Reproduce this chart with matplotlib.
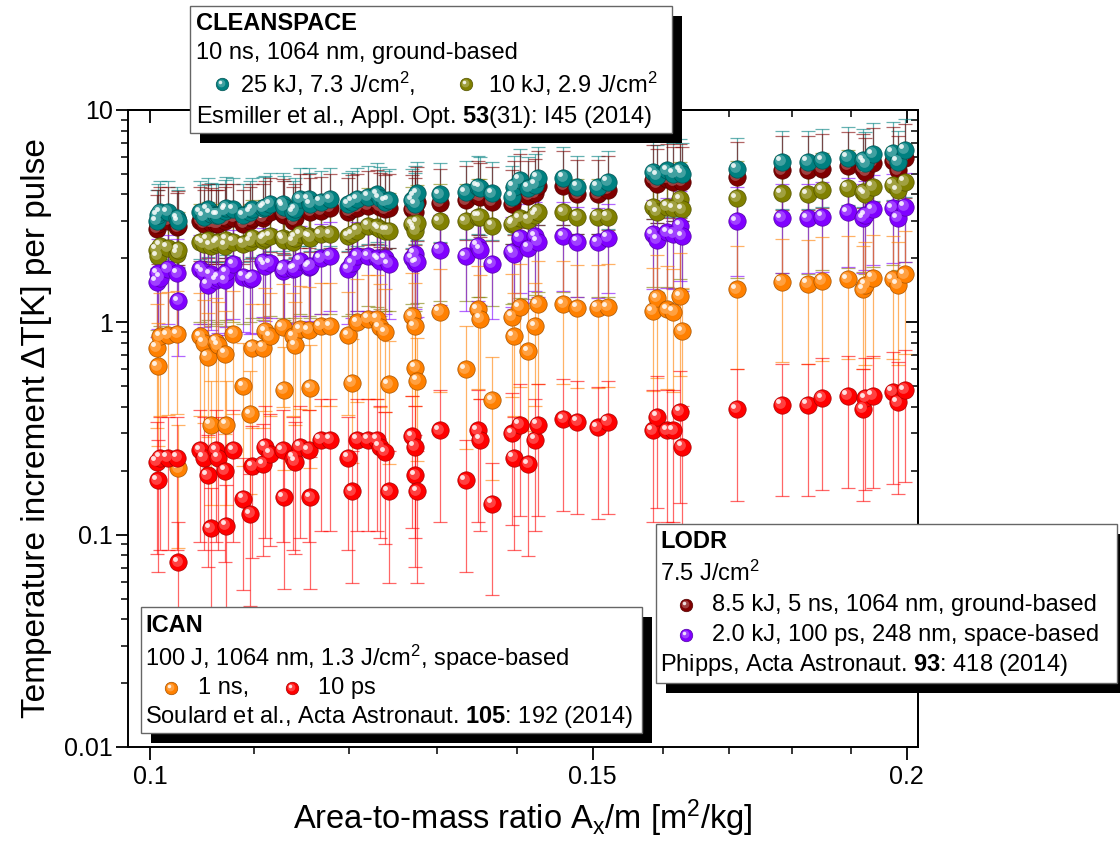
import matplotlib
matplotlib.use("Agg")
import matplotlib.pyplot as plt
import numpy as np
from matplotlib.patches import Rectangle
from matplotlib.transforms import offset_copy
from matplotlib.ticker import FixedLocator, NullFormatter, LogLocator, FuncFormatter
from matplotlib.colors import to_rgb

plt.rcParams['font.family'] = ['Liberation Sans', 'DejaVu Sans']
plt.rcParams['mathtext.fontset'] = 'custom'
plt.rcParams['mathtext.rm'] = 'Liberation Sans'
plt.rcParams['mathtext.bf'] = 'Liberation Sans:bold'
plt.rcParams['mathtext.it'] = 'Liberation Sans:italic'

# ---- data: area-to-mass ratio of each debris object [m^2/kg]
area_to_mass = [
    0.1006, 0.1007, 0.1009, 0.1016, 0.1025, 0.1026, 0.1047, 0.1050, 0.1054, 0.1057,
    0.1062, 0.1064, 0.1071, 0.1072, 0.1079, 0.1089, 0.1096, 0.1098, 0.1109, 0.1111,
    0.1116, 0.1129, 0.1130, 0.1140, 0.1142, 0.1147, 0.1156, 0.1158, 0.1169, 0.1179,
    0.1199, 0.1203, 0.1209, 0.1221, 0.1231, 0.1234, 0.1240, 0.1244, 0.1271, 0.1274,
    0.1275, 0.1277, 0.1304, 0.1335, 0.1350, 0.1353, 0.1368, 0.1393, 0.1395, 0.1403,
    0.1414, 0.1423, 0.1426, 0.1460, 0.1479, 0.1507, 0.1521, 0.1585, 0.1591, 0.1606,
    0.1615, 0.1625, 0.1628, 0.1712, 0.1784, 0.1827, 0.1851, 0.1895, 0.1922, 0.1926,
    0.1939, 0.1975, 0.1984, 0.1997,
]

# temperature increment per pulse [K]
dT_cleanspace_25kJ = [
    3.0, 3.2, 3.3, 3.3, 3.1, 3.0, 3.3, 3.15, 3.4, 3.25,
    3.2, 3.2, 3.35, 3.45, 3.4, 3.2, 3.3, 3.4, 3.45, 3.5,
    3.6, 3.6, 3.5, 3.3, 3.4, 3.8, 3.8, 3.6, 3.7, 3.8,
    3.6, 3.7, 3.8, 3.9, 4.0, 3.85, 3.7, 3.75, 3.75, 3.9,
    3.6, 4.05, 4.0, 4.1, 4.35, 4.3, 4.05, 3.9, 4.35, 4.7,
    4.3, 4.45, 4.8, 4.8, 4.35, 4.35, 4.6, 5.1, 4.9, 5.2,
    5.0, 5.2, 5.0, 5.3, 5.7, 5.7, 5.8, 5.95, 5.8, 5.6,
    6.2, 6.3, 5.7, 6.5,
]
dT_cleanspace_10kJ = [
    2.2, 2.05, 2.3, 2.25, 2.1, 2.2, 2.4, 2.35, 2.45, 2.3,
    2.35, 2.4, 2.3, 2.45, 2.4, 2.35, 2.4, 2.5, 2.45, 2.5,
    2.55, 2.5, 2.45, 2.4, 2.5, 2.6, 2.55, 2.5, 2.6, 2.6,
    2.55, 2.6, 2.7, 2.85, 2.8, 2.75, 2.7, 2.7, 2.9, 2.8,
    2.7, 2.95, 3.0, 3.0, 3.15, 3.15, 2.85, 2.9, 2.95, 3.1,
    3.05, 3.2, 3.3, 3.3, 3.15, 3.15, 3.15, 3.5, 3.3, 3.5,
    3.45, 3.8, 3.4, 3.85, 4.05, 4.0, 4.2, 4.3, 4.1, 4.0,
    4.35, 4.45, 4.2, 4.6,
]
dT_lodr_8p5kJ = [
    2.75, 2.9, 3.0, 3.0, 2.8, 2.85, 3.0, 2.9, 3.1, 2.95,
    2.9, 2.9, 3.0, 3.1, 3.1, 2.9, 3.0, 3.1, 3.1, 3.2,
    3.3, 3.25, 3.2, 3.0, 3.1, 3.45, 3.45, 3.3, 3.35, 3.45,
    3.3, 3.4, 3.45, 3.55, 3.6, 3.5, 3.4, 3.45, 3.4, 3.55,
    3.3, 3.7, 3.65, 3.75, 3.95, 3.9, 3.7, 3.6, 3.95, 4.3,
    3.95, 4.05, 4.4, 4.4, 4.0, 4.0, 4.2, 4.7, 4.5, 4.75,
    4.6, 4.75, 4.6, 4.85, 5.2, 5.2, 5.3, 5.45, 5.3, 5.1,
    5.65, 5.75, 5.2, 5.95,
]
dT_lodr_2kJ = [
    1.55, 1.7, 1.62, 1.78, 1.7, 1.26, 1.78, 1.72, 1.5, 1.68,
    1.58, 1.62, 1.58, 1.72, 1.88, 1.64, 1.6, 1.62, 1.92, 1.85,
    1.9, 1.75, 1.8, 1.78, 1.8, 1.95, 1.82, 1.85, 2.0, 2.05,
    1.78, 1.9, 2.05, 2.05, 2.0, 1.95, 2.0, 1.88, 2.0, 2.1,
    1.9, 1.92, 2.2, 2.05, 2.3, 2.2, 1.88, 2.15, 2.1, 2.5,
    2.25, 2.55, 2.4, 2.55, 2.4, 2.38, 2.5, 2.6, 2.45, 2.65,
    2.6, 2.85, 2.55, 3.0, 3.1, 3.1, 3.15, 3.3, 3.1, 3.2,
    3.4, 3.45, 3.1, 3.5,
]
dT_ican_1ns = [
    0.76, 0.62, 0.86, 0.87, 0.88, 0.205, 0.86, 0.80, 0.69, 0.33,
    0.81, 0.78, 0.71, 0.33, 0.88, 0.50, 0.37, 0.76, 0.76, 0.91,
    0.86, 0.95, 0.48, 0.86, 0.78, 0.93, 0.92, 0.49, 0.96, 0.96,
    0.87, 0.52, 1.0, 1.04, 1.04, 0.95, 0.90, 0.51, 1.07, 0.96,
    0.61, 0.53, 1.12, 0.60, 1.15, 1.04, 0.43, 1.06, 0.86, 1.18,
    0.73, 0.96, 1.22, 1.22, 1.17, 1.17, 1.18, 1.13, 1.3, 1.15,
    1.12, 1.33, 0.91, 1.43, 1.55, 1.52, 1.57, 1.6, 1.43, 1.5,
    1.62, 1.6, 1.5, 1.68,
]
dT_ican_10ps = [
    0.22, 0.18, 0.23, 0.23, 0.23, 0.074, 0.25, 0.23, 0.19, 0.107,
    0.25, 0.23, 0.20, 0.11, 0.25, 0.148, 0.125, 0.21, 0.215, 0.26,
    0.24, 0.25, 0.15, 0.23, 0.22, 0.26, 0.25, 0.15, 0.28, 0.28,
    0.23, 0.16, 0.28, 0.28, 0.28, 0.26, 0.245, 0.16, 0.29, 0.26,
    0.19, 0.16, 0.31, 0.18, 0.31, 0.28, 0.14, 0.30, 0.23, 0.33,
    0.215, 0.28, 0.33, 0.35, 0.34, 0.32, 0.34, 0.31, 0.36, 0.31,
    0.31, 0.38, 0.26, 0.39, 0.41, 0.41, 0.44, 0.45, 0.39, 0.44,
    0.45, 0.47, 0.42, 0.48,
]

# relative uncertainty (lower factor, upper factor) for each configuration
err_cleanspace_25kJ = (0.60, 1.40)
err_cleanspace_10kJ = (0.42, 1.50)
err_lodr_8p5kJ = (0.65, 1.45)
err_lodr_2kJ = (0.55, 1.45)
err_ican_1ns = (0.42, 1.60)
err_ican_10ps = (0.37, 1.55)

C_TEAL = '#008080'
C_OLIVE = '#808000'
C_DARKRED = '#800000'
C_PURPLE = '#8000FF'
C_ORANGE = '#FF8000'
C_RED = '#FF0000'

W, H, DPI = 1120, 841, 100
fig = plt.figure(figsize=(W / DPI, H / DPI), dpi=DPI)
fig.patch.set_facecolor('white')

ax_l, ax_r, ax_t, ax_b = 128.3, 918.0, 110.0, 747.0
ax = fig.add_axes([ax_l / W, 1 - ax_b / H, (ax_r - ax_l) / W, (ax_b - ax_t) / H])
ax.set_xscale('log')
ax.set_yscale('log')
ax.set_xlim(0.0980, 0.2021)
ax.set_ylim(0.01, 10)


def blend(c, other, t):
    c = np.array(to_rgb(c))
    o = np.array(to_rgb(other))
    return tuple(c * (1 - t) + o * t)


def draw_balls(axis, x, y, color, size, zorder, transform=None):
    base = transform if transform is not None else axis.transData
    f = axis.figure
    axis.scatter(x, y, s=size ** 2, color=color, edgecolors=blend(color, 'black', 0.35),
                 linewidths=0.5, zorder=zorder, transform=base)
    tr1 = offset_copy(base, fig=f, x=-size * 0.10, y=size * 0.10, units='points')
    axis.scatter(x, y, s=(size * 0.62) ** 2, color=blend(color, 'white', 0.25),
                 linewidths=0, zorder=zorder + 0.01, transform=tr1)
    tr2 = offset_copy(base, fig=f, x=-size * 0.2, y=size * 0.2, units='points')
    axis.scatter(x, y, s=(size * 0.28) ** 2, color='white', alpha=0.85,
                 linewidths=0, zorder=zorder + 0.02, transform=tr2)


series = [
    (dT_cleanspace_25kJ, err_cleanspace_25kJ, C_TEAL),
    (dT_lodr_8p5kJ, err_lodr_8p5kJ, C_DARKRED),
    (dT_cleanspace_10kJ, err_cleanspace_10kJ, C_OLIVE),
    (dT_lodr_2kJ, err_lodr_2kJ, C_PURPLE),
    (dT_ican_1ns, err_ican_1ns, C_ORANGE),
    (dT_ican_10ps, err_ican_10ps, C_RED),
]

x = np.array(area_to_mass)
for vals, (lo, hi), col in series:
    v = np.array(vals)
    yerr = np.vstack([v * (1 - lo), v * (hi - 1)])
    ax.errorbar(x, v, yerr=yerr, fmt='none', ecolor=col, elinewidth=0.9,
                capsize=4.8, capthick=0.9, alpha=0.6, zorder=2)

marker_order = [
    (dT_lodr_8p5kJ, C_DARKRED),
    (dT_cleanspace_25kJ, C_TEAL),
    (dT_cleanspace_10kJ, C_OLIVE),
    (dT_lodr_2kJ, C_PURPLE),
    (dT_ican_1ns, C_ORANGE),
    (dT_ican_10ps, C_RED),
]
for i, (vals, col) in enumerate(marker_order):
    draw_balls(ax, x, vals, col, 12.5, 3 + i * 0.1)

# axes styling
for sp in ax.spines.values():
    sp.set_linewidth(1.4)
ax.xaxis.set_major_locator(FixedLocator([0.1, 0.15, 0.2]))
ax.xaxis.set_major_formatter(FuncFormatter(lambda v, p: f'{v:g}'))
ax.xaxis.set_minor_locator(FixedLocator([0.11, 0.12, 0.13, 0.14, 0.16, 0.17, 0.18, 0.19]))
ax.xaxis.set_minor_formatter(NullFormatter())
ax.yaxis.set_major_locator(LogLocator(base=10))
ax.yaxis.set_minor_locator(LogLocator(base=10, subs=np.arange(2, 10)))
ax.yaxis.set_major_formatter(FuncFormatter(lambda v, p: f'{v:g}'))
ax.yaxis.set_minor_formatter(NullFormatter())
ax.tick_params(which='major', direction='out', length=9, width=1.3, labelsize=18, pad=4)
ax.tick_params(which='minor', direction='out', length=5, width=1.1)
ax.tick_params(axis='y', which='major', pad=2)

top = ax.secondary_xaxis('top')
top.xaxis.set_major_locator(FixedLocator([0.1, 0.15, 0.2]))
top.xaxis.set_minor_locator(FixedLocator([0.11, 0.12, 0.13, 0.14, 0.16, 0.17, 0.18, 0.19]))
top.xaxis.set_major_formatter(NullFormatter())
top.xaxis.set_minor_formatter(NullFormatter())
top.tick_params(which='major', direction='in', length=9, width=1.3)
top.tick_params(which='minor', direction='in', length=5, width=1.1)
top.spines['top'].set_linewidth(1.4)

right = ax.secondary_yaxis('right')
right.yaxis.set_major_locator(LogLocator(base=10))
right.yaxis.set_minor_locator(LogLocator(base=10, subs=np.arange(2, 10)))
right.yaxis.set_major_formatter(NullFormatter())
right.yaxis.set_minor_formatter(NullFormatter())
right.tick_params(which='major', direction='in', length=9, width=1.3)
right.tick_params(which='minor', direction='in', length=5, width=1.1)
right.spines['right'].set_linewidth(1.4)

ax.set_xlabel(r'Area-to-mass ratio A$_\mathrm{x}$/m [m$^\mathrm{2}$/kg]', fontsize=23.5, labelpad=6)
ax.set_ylabel('Temperature increment ΔT[K] per pulse', fontsize=24, labelpad=9)

# ---- annotation boxes drawn in pixel coordinates on an overlay
ov = fig.add_axes([0, 0, 1, 1], zorder=10)
ov.set_xlim(0, W)
ov.set_ylim(H, 0)
ov.axis('off')
ov.patch.set_alpha(0)

FS = 17
SHADOW = 10


def box(x0, y0, x1, y1):
    ov.add_patch(Rectangle((x0 + SHADOW, y0 + SHADOW), x1 - x0, y1 - y0,
                           facecolor='black', edgecolor='none', zorder=1))
    ov.add_patch(Rectangle((x0, y0), x1 - x0, y1 - y0, facecolor='white',
                           edgecolor='#666666', linewidth=1.0, zorder=2))


def txt(px, py, s, bold=False):
    ov.text(px, py, s, fontsize=FS, ha='left', va='center',
            fontweight='bold' if bold else 'normal', zorder=5)


def legend_ball(px, py, col):
    draw_balls(ov, [px], [py], col, 9.0, 6)


# CLEANSPACE
box(190, 6, 672, 133)
txt(196, 23, 'CLEANSPACE', bold=True)
txt(196, 53, '10 ns, 1064 nm, ground-based')
legend_ball(222, 84, C_TEAL)
txt(240, 84, r'25 kJ, 7.3 J/cm$^\mathrm{2}$,')
legend_ball(466, 84, C_OLIVE)
txt(488, 84, r'10 kJ, 2.9 J/cm$^\mathrm{2}$')
txt(196, 117, r'Esmiller et al., Appl. Opt. $\mathbf{53}$(31): I45 (2014)')

# ICAN
box(141, 607, 642, 733)
txt(145, 625, 'ICAN', bold=True)
txt(145, 658, r'100 J, 1064 nm, 1.3 J/cm$^\mathrm{2}$, space-based')
legend_ball(171, 688, C_ORANGE)
txt(198, 688, '1 ns,')
legend_ball(292, 688, C_RED)
txt(318, 688, '10 ps')
txt(145, 717, r'Soulard et al., Acta Astronaut. $\mathbf{105}$: 192 (2014)')

# LODR
box(656, 524, 1117, 683)
txt(660, 542, 'LODR', bold=True)
txt(660, 573, r'7.5 J/cm$^\mathrm{2}$')
legend_ball(686, 605, C_DARKRED)
txt(712, 605, '8.5 kJ, 5 ns, 1064 nm, ground-based')
legend_ball(686, 635, C_PURPLE)
txt(712, 635, '2.0 kJ, 100 ps, 248 nm, space-based')
txt(660, 665, r'Phipps, Acta Astronaut. $\mathbf{93}$: 418 (2014)')

fig.savefig('out.png', dpi=DPI)
